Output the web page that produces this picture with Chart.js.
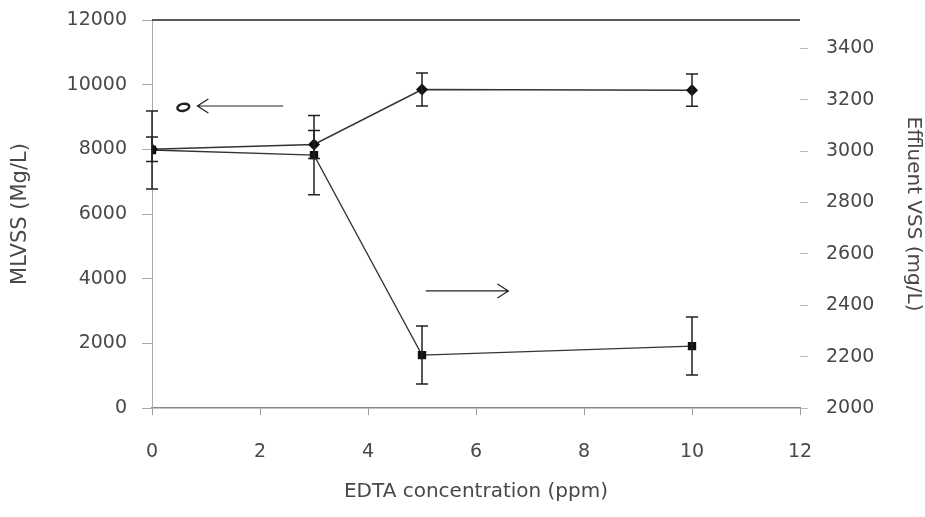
<!DOCTYPE html>
<html>
<head>
<meta charset="utf-8">
<script src="https://cdn.jsdelivr.net/npm/chart.js@4.4.1/dist/chart.umd.min.js"></script>
<style>
  html, body { margin: 0; padding: 0; background: #fff; }
  #wrap { width: 925px; height: 517px; }
</style>
</head>
<body>
<div id="wrap"><canvas id="chart" width="925" height="517"></canvas></div>
<script>
// EDTA concentration (ppm)
const edta = [0, 3, 5, 10];
// MLVSS (left axis)
const mlvss = [8000, 8150, 9850, 9830];
const mlvssErr = [380, 430, 510, 500];
// Effluent VSS (right axis)
const effluentVss = [3004, 2984, 2206, 2241];
const effluentErr = [152, 154, 113, 113];

const xTicks = [0, 2, 4, 6, 8, 10, 12];
const leftTicks = [0, 2000, 4000, 6000, 8000, 10000, 12000];
const rightTicks = [2000, 2200, 2400, 2600, 2800, 3000, 3200, 3400];

const FONT = 'DejaVu Sans';
const TXT = '#484848';

function toPoints(xs, ys) {
    return xs.map(function (x, i) { return { x: x, y: ys[i] }; });
}

function plain(v) {
    return String(v);
}

// error bars drawn with the dataset's own scales
const errorBars = {
    id: 'errorBars',
    afterDatasetsDraw: function (chart) {
        const ctx = chart.ctx;
        const errs = [mlvssErr, effluentErr];
        chart.data.datasets.forEach(function (ds, d) {
            const meta = chart.getDatasetMeta(d);
            const yScale = chart.scales[ds.yAxisID];
            ctx.save();
            ctx.strokeStyle = '#222';
            ctx.lineWidth = 1.5;
            meta.data.forEach(function (pt, i) {
                const v = ds.data[i].y;
                const top = yScale.getPixelForValue(v + errs[d][i]);
                const bot = yScale.getPixelForValue(v - errs[d][i]);
                ctx.beginPath();
                ctx.moveTo(pt.x, top); ctx.lineTo(pt.x, bot);
                ctx.moveTo(pt.x - 6, top); ctx.lineTo(pt.x + 6, top);
                ctx.moveTo(pt.x - 6, bot); ctx.lineTo(pt.x + 6, bot);
                ctx.stroke();
            });
            ctx.restore();
        });
    }
};

// top frame line and the two arrows (arrow positions in left-axis data units)
const arrows = [
    { from: [2.43, 9340], to: [0.84, 9340], mark: [0.58, 9300] },
    { from: [5.07, 3620], to: [6.6, 3620] }
];

const extras = {
    id: 'extras',
    afterDraw: function (chart) {
        const ctx = chart.ctx;
        const a = chart.chartArea;
        const xs = chart.scales.x, ys = chart.scales.y;
        ctx.save();
        ctx.strokeStyle = '#222';
        ctx.lineWidth = 1.5;
        ctx.beginPath();
        ctx.moveTo(a.left, a.top); ctx.lineTo(a.right, a.top);
        ctx.stroke();

        arrows.forEach(function (ar) {
            const x1 = xs.getPixelForValue(ar.from[0]);
            const x2 = xs.getPixelForValue(ar.to[0]);
            const y = ys.getPixelForValue(ar.from[1]);
            const dir = x2 > x1 ? -1 : 1;
            ctx.lineWidth = 1.2;
            ctx.beginPath();
            ctx.moveTo(x1, y); ctx.lineTo(x2, y);
            ctx.moveTo(x2 + dir * 11, y - 7); ctx.lineTo(x2, y); ctx.lineTo(x2 + dir * 11, y + 7);
            ctx.stroke();
            if (ar.mark) {
                const mx = xs.getPixelForValue(ar.mark[0]);
                const my = ys.getPixelForValue(ar.mark[1]);
                ctx.lineWidth = 2.5;
                ctx.beginPath();
                ctx.ellipse(mx, my, 6, 3.5, -0.2, 0, Math.PI * 2);
                ctx.stroke();
            }
        });
        ctx.restore();
    }
};

new Chart(document.getElementById('chart'), {
    type: 'scatter',
    data: {
        datasets: [
            {
                label: 'MLVSS',
                data: toPoints(edta, mlvss),
                yAxisID: 'y',
                showLine: true,
                borderColor: '#333',
                borderWidth: 1.5,
                backgroundColor: '#111',
                pointStyle: 'rectRot',
                pointRadius: 5,
                pointBorderColor: '#111'
            },
            {
                label: 'Effluent VSS',
                data: toPoints(edta, effluentVss),
                yAxisID: 'y2',
                showLine: true,
                borderColor: '#333',
                borderWidth: 1.3,
                backgroundColor: '#111',
                pointStyle: 'rect',
                pointRadius: 5,
                pointBorderColor: '#111'
            }
        ]
    },
    options: {
        responsive: false,
        animation: false,
        layout: { padding: { top: 20, left: 0, right: 0, bottom: 0 } },
        plugins: { legend: { display: false }, tooltip: { enabled: false } },
        scales: {
            x: {
                type: 'linear',
                min: 0, max: 12,
                afterBuildTicks: function (s) { s.ticks = xTicks.map(function (v) { return { value: v }; }); },
                afterFit: function (s) { s.height = 109; },
                grid: { drawOnChartArea: false, drawTicks: true, tickLength: 7, color: '#999' },
                border: { color: '#888', width: 1.5 },
                ticks: { color: TXT, font: { family: FONT, size: 19 }, padding: 26, callback: plain },
                title: { display: true, text: 'EDTA concentration (ppm)', color: TXT, font: { family: FONT, size: 20 }, padding: { top: 4, bottom: 13 } }
            },
            y: {
                position: 'left',
                min: 0, max: 12000,
                afterBuildTicks: function (s) { s.ticks = leftTicks.map(function (v) { return { value: v }; }); },
                afterFit: function (s) { s.width = 152; },
                grid: { drawOnChartArea: false, drawTicks: true, tickLength: 10, color: '#aaa' },
                border: { color: '#aaa', width: 1, dash: [2, 2] },
                ticks: { color: TXT, font: { family: FONT, size: 19, lineHeight: 0.1 }, padding: 15, callback: plain },
                title: { display: true, text: 'MLVSS (Mg/L)', color: TXT, font: { family: FONT, size: 21 }, padding: { top: 8, bottom: 0 } }
            },
            y2: {
                position: 'right',
                min: 2000, max: 3510,
                afterBuildTicks: function (s) { s.ticks = rightTicks.map(function (v) { return { value: v }; }); },
                afterFit: function (s) { s.width = 125; },
                grid: { drawOnChartArea: false, drawTicks: true, tickLength: 8, color: '#bbb' },
                border: { display: false },
                ticks: { color: TXT, font: { family: FONT, size: 19, lineHeight: 0.1 }, padding: 18, callback: plain },
                title: { display: true, text: 'Effluent VSS (mg/L)', color: TXT, font: { family: FONT, size: 20 }, padding: { top: 0, bottom: 0 } }
            }
        }
    },
    plugins: [errorBars, extras]
});
</script>
</body>
</html>
